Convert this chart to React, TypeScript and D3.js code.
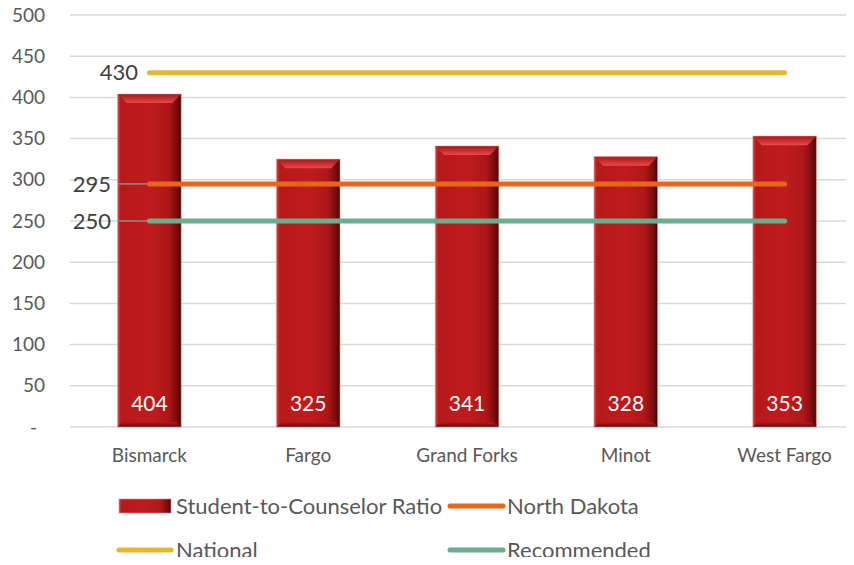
import React from "react";
import * as d3 from "d3";

const categories = ["Bismarck", "Fargo", "Grand Forks", "Minot", "West Fargo"];
const ratios = [404, 325, 341, 328, 353];
const yTicks = [0, 50, 100, 150, 200, 250, 300, 350, 400, 450, 500];
const refNames = ["National", "North Dakota", "Recommended"];
const refValues = [430, 295, 250];
const refColors = ["#E9B52C", "#E8661A", "#6BAE8F"];

const W = 854;
const H = 565;
const FONT = "Lato, 'Open Sans', sans-serif";

export default function App() {
  const x = d3.scaleBand<string>().domain(categories).range([70, 864]).paddingInner(0.6).paddingOuter(0.3);
  const y = d3.scaleLinear().domain([0, 500]).range([427, 15]);
  const bw = x.bandwidth();
  const lineX0 = (x(categories[0]) as number) + bw / 2;
  const lineX1 = (x(categories[categories.length - 1]) as number) + bw / 2;

  return (
    <div style={{ margin: -8 }}>
      <svg width={W} height={H} style={{ display: "block", background: "#fff", fontFamily: FONT }}>
        <defs>
          <linearGradient id="barGrad" x1="0" x2="1" y1="0" y2="0">
            <stop offset="0" stopColor="#d9473f" />
            <stop offset="0.05" stopColor="#b5191a" />
            <stop offset="0.5" stopColor="#c01b1c" />
            <stop offset="0.8" stopColor="#ae1718" />
            <stop offset="0.93" stopColor="#7a0d0d" />
            <stop offset="1" stopColor="#4a0505" />
          </linearGradient>
          <linearGradient id="topGrad" x1="0" x2="0" y1="0" y2="1">
            <stop offset="0" stopColor="#a81617" />
            <stop offset="1" stopColor="#e8494a" />
          </linearGradient>
          <linearGradient id="botGrad" x1="0" x2="0" y1="0" y2="1">
            <stop offset="0" stopColor="#b51a1a" />
            <stop offset="1" stopColor="#6a0808" />
          </linearGradient>
        </defs>

        {yTicks.map((t) => (
          <g key={t}>
            <line x1={70} x2={W} y1={y(t)} y2={y(t)} stroke="#d9d9d9" strokeWidth={1.5} />
            <text x={t === 0 ? 37 : 45} y={y(t)} dy="0.35em" textAnchor="end" fontSize={19} fill="#595959">
              {t === 0 ? "-" : t}
            </text>
          </g>
        ))}

        {categories.map((c, i) => {
          const bx = x(c) as number;
          const by = y(ratios[i]);
          const bh = y(0) - by;
          const bev = 9;
          return (
            <g key={c}>
              <rect x={bx} y={by} width={bw} height={bh} fill="url(#barGrad)" />
              <path
                d={`M${bx},${by} L${bx + bw},${by} L${bx + bw - bev},${by + bev} L${bx + bev},${by + bev} Z`}
                fill="url(#topGrad)"
              />
              <path
                d={`M${bx},${y(0)} L${bx + bw},${y(0)} L${bx + bw - 5},${y(0) - 5} L${bx + 5},${y(0) - 5} Z`}
                fill="url(#botGrad)"
              />
              <rect x={bx} y={by} width={bw} height={bh} fill="none" stroke="#e58a8a" strokeOpacity={0.5} strokeWidth={1} />
              <text x={bx + bw / 2} y={y(0) - 23} dy="0.35em" textAnchor="middle" fontSize={21} fill="#fff">
                {ratios[i]}
              </text>
              <text x={bx + bw / 2} y={455} dy="0.35em" textAnchor="middle" fontSize={19} fill="#595959">
                {c}
              </text>
            </g>
          );
        })}

        {refValues.map((v, i) => (
          <g key={refNames[i]}>
            {i > 0 && <line x1={119} x2={lineX0} y1={y(v)} y2={y(v)} stroke="#8c8c8c" strokeWidth={1.5} />}
            <line x1={lineX0} x2={lineX1} y1={y(v)} y2={y(v)} stroke={refColors[i]} strokeWidth={5} strokeLinecap="round" />
            <text
              x={i === 0 ? 138 : 111}
              y={y(v)}
              dy="0.35em"
              textAnchor="end"
              fontSize={22}
              fill="#404040"
            >
              {v}
            </text>
          </g>
        ))}

        {/* Legend */}
        <g>
          <rect x={119} y={499} width={52} height={14} fill="url(#barGrad)" stroke="#e58a8a" strokeOpacity={0.6} />
          <text x={176} y={506} dy="0.35em" fontSize={22} fill="#595959">Student-to-Counselor Ratio</text>
          <line x1={450} x2={503} y1={506} y2={506} stroke={refColors[1]} strokeWidth={5} strokeLinecap="round" />
          <text x={507} y={506} dy="0.35em" fontSize={22} fill="#595959">{refNames[1]}</text>
          <line x1={119} x2={171} y1={550} y2={550} stroke={refColors[0]} strokeWidth={5} strokeLinecap="round" />
          <text x={176} y={550} dy="0.35em" fontSize={22} fill="#595959">{refNames[0]}</text>
          <line x1={450} x2={503} y1={550} y2={550} stroke={refColors[2]} strokeWidth={5} strokeLinecap="round" />
          <text x={507} y={550} dy="0.35em" fontSize={22} fill="#595959">{refNames[2]}</text>
        </g>
      </svg>
    </div>
  );
}
